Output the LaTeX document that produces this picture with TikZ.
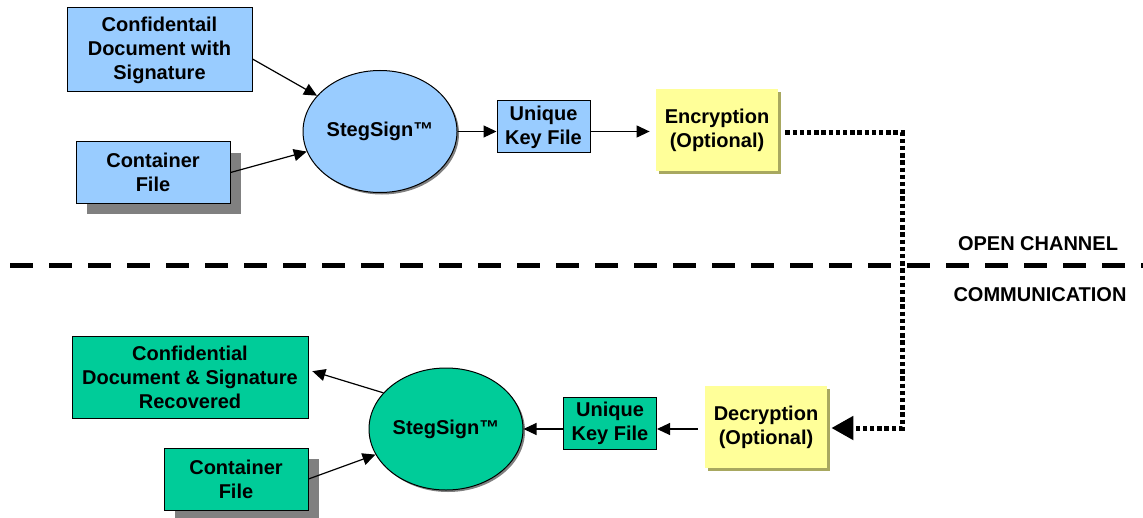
\documentclass[tikz,border=0pt]{standalone}
\usepackage{fontspec}
\setmainfont{Liberation Sans}
\usetikzlibrary{shapes.geometric,shadows,arrows.meta}
\definecolor{keyblue}{HTML}{99CCFF}
\definecolor{keygreen}{HTML}{00CC99}
\definecolor{optyellow}{HTML}{FFFF99}
\definecolor{shadegray}{HTML}{808080}
\definecolor{shadeolive}{HTML}{A8A860}

\begin{document}
\begin{tikzpicture}[x=0.5pt,y=-0.5pt,font=\fontsize{10}{12}\selectfont\bfseries,
box/.style={draw, line width=0.5pt, align=center, inner sep=0pt},
stepblue/.style={box, fill=keyblue},
stepgreen/.style={box, fill=keygreen},
optbox/.style={fill=optyellow, align=center, inner sep=0pt, minimum width=61pt, minimum height=41pt,
  drop shadow={shadow xshift=1.5pt, shadow yshift=-1.5pt, fill=shadeolive, opacity=1}},
hardshadow/.style={drop shadow={shadow xshift=5.5pt, shadow yshift=-5.5pt, fill=shadegray, opacity=1}},
ellshadow/.style={drop shadow={shadow xshift=1pt, shadow yshift=-1pt, fill=shadegray, opacity=1}},
stego/.style={ellipse, minimum width=77pt, minimum height=61pt, ellshadow},
keybox/.style={minimum width=46.5pt, minimum height=26pt},
arr/.style={line width=0.6pt, -{Triangle[length=6.5pt,width=6pt]}},
dotline/.style={line width=2.5pt, dash pattern=on 2.2pt off 1.4pt, -{Triangle[length=11pt,width=11.5pt]}},
chanline/.style={line width=2.5pt, dash pattern=on 11.5pt off 8pt}]

\useasboundingbox (0,0) rectangle (1143,518);

% sender side
\node[stepblue, minimum width=92.5pt, minimum height=42pt] (doc) at (159.5,50) {Confidentail\\Document with\\Signature};
\node[stepblue, minimum width=77pt, minimum height=30.5pt, hardshadow] (cont) at (153,172.5) {Container\\File};
\node[stepblue, stego] (sign) at (380,131.5) {StegSign™};
\node[stepblue, keybox] (key) at (543.5,127) {Unique\\Key File};
\node[optbox] (enc) at (717,130) {Encryption\\(Optional)};

\draw[arr] ([yshift=-4.5pt]doc.east) -- (sign);
\draw[arr] (cont.east) -- (sign);
\draw[arr] (sign.east) -- (sign.east -| key.west);
\draw[arr, shorten >=3pt] (key.east |- sign.east) -- (enc.west |- sign.east);

% channel
\coordinate (chanL) at (10,265);
\coordinate (chanR) at (1143,265);
\draw[chanline] (chanL) -- (chanR);
\node (open) at (1038,243.5) {OPEN CHANNEL};
\node (comm) at (1040,295) {COMMUNICATION};

% receiver side
\node[stepgreen, minimum width=118pt, minimum height=41pt] (rec) at (190,377) {Confidential\\Document \& Signature\\Recovered};
\node[stepgreen, minimum width=72pt, minimum height=31pt, hardshadow] (cont2) at (236,479) {Container\\File};
\node[stepgreen, stego] (sign2) at (446,429) {StegSign™};
\node[stepgreen, keybox] (key2) at (610,423) {Unique\\Key File};
\node[optbox] (dec) at (766,427) {Decryption\\(Optional)};

\coordinate (bendA) at (902,133);
\coordinate (bendB) at (902,428);
\draw[dotline, shorten <=3.5pt] ([yshift=-1.5pt]enc.east) -- (bendA) -- (bendB) -- ([xshift=2pt]dec.east |- bendB);

\draw[arr, shorten <=3.5pt] (dec.west |- sign2.east) -- (key2.east |- sign2.east);
\draw[arr] (key2.west |- sign2.east) -- (sign2.east);
\draw[arr, shorten >=2pt] (sign2.150) -- ([yshift=3.5pt]rec.east);
\draw[arr] (cont2.east) -- (sign2);
\end{tikzpicture}
\end{document}
